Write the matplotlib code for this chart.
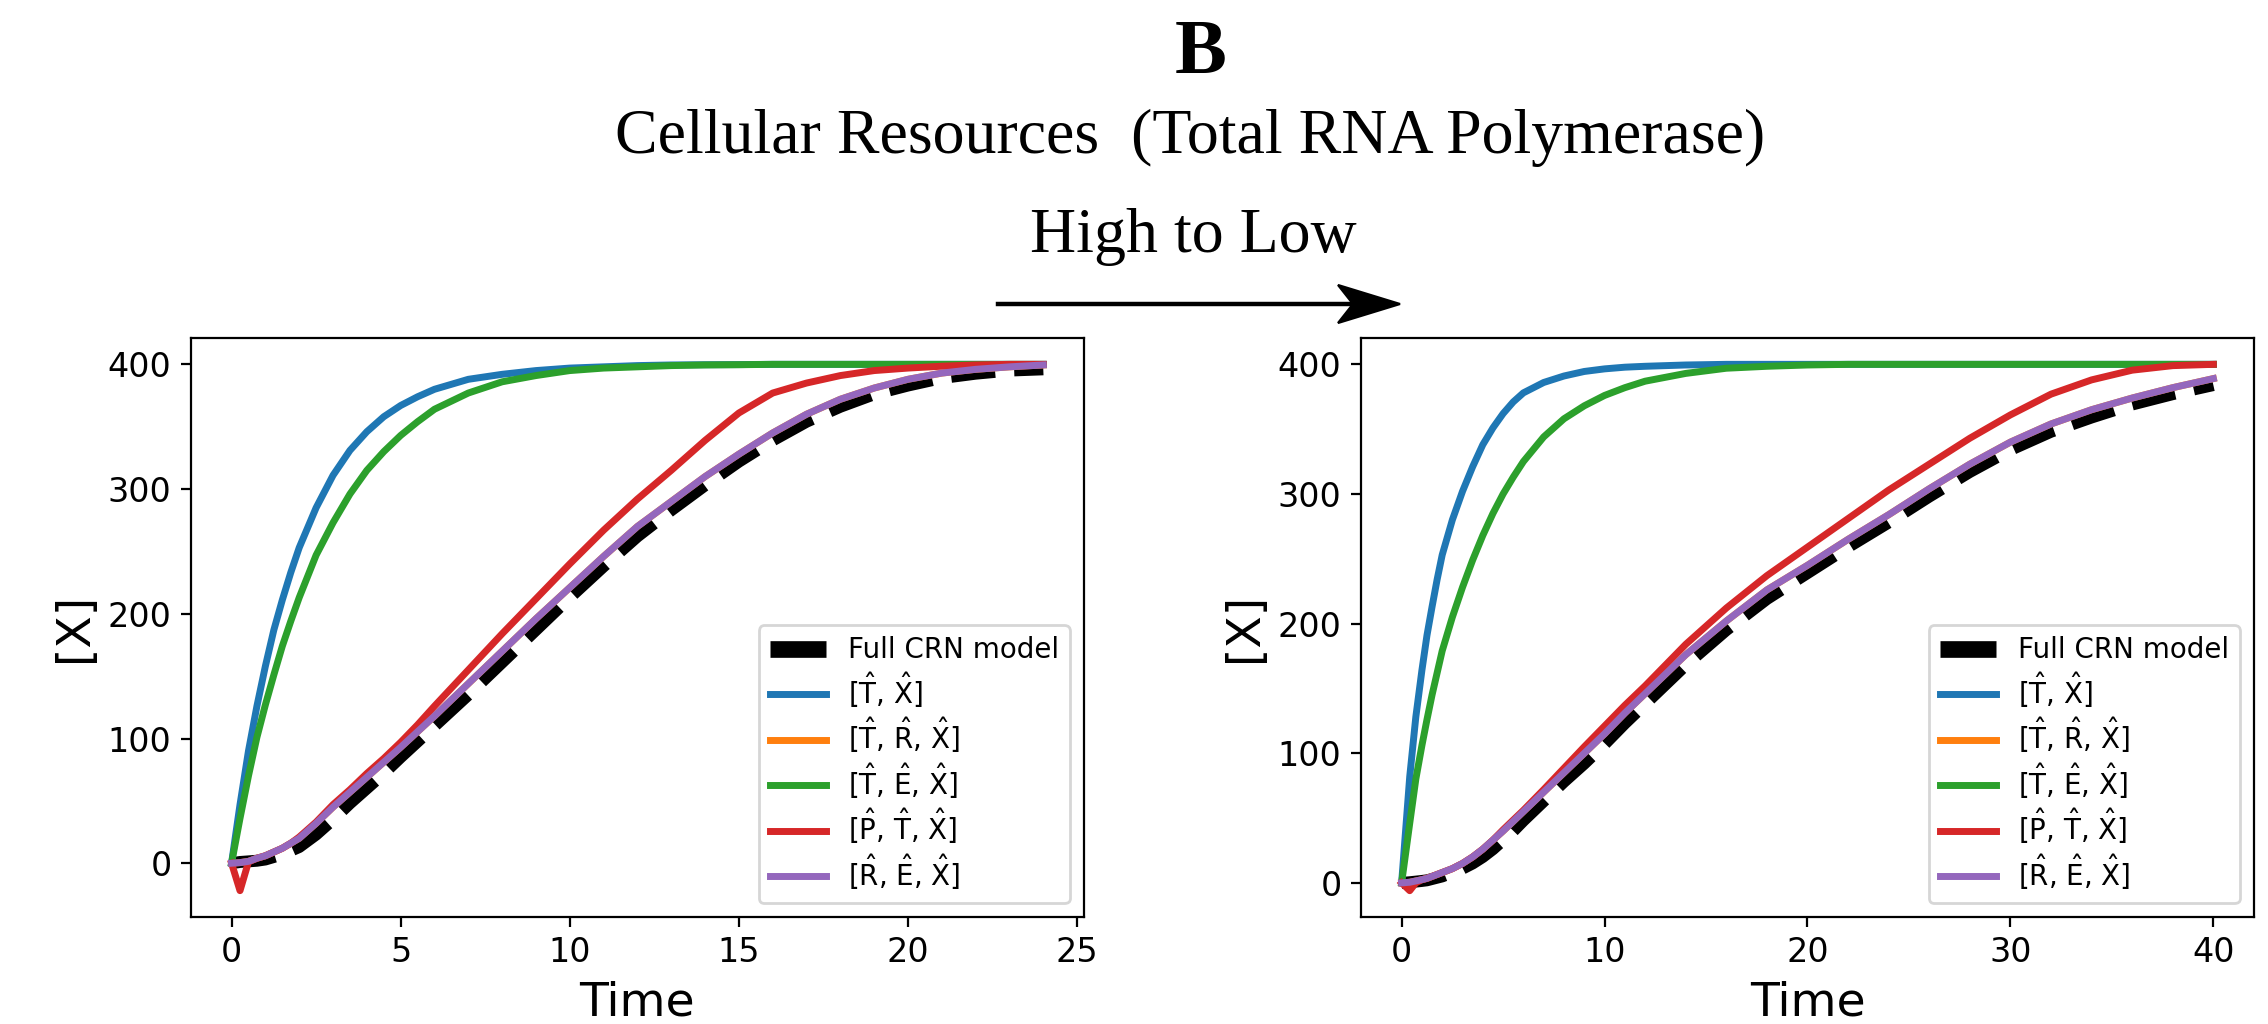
import matplotlib
matplotlib.use('Agg')
import matplotlib.pyplot as plt
from matplotlib.lines import Line2D
from matplotlib.patches import Polygon

# ---- data ----
labels = ['Full CRN model',
          r'[$\hat{\mathrm{T}}$, $\hat{\mathrm{X}}$]',
          r'[$\hat{\mathrm{T}}$, $\hat{\mathrm{R}}$, $\hat{\mathrm{X}}$]',
          r'[$\hat{\mathrm{T}}$, $\hat{\mathrm{E}}$, $\hat{\mathrm{X}}$]',
          r'[$\hat{\mathrm{P}}$, $\hat{\mathrm{T}}$, $\hat{\mathrm{X}}$]',
          r'[$\hat{\mathrm{R}}$, $\hat{\mathrm{E}}$, $\hat{\mathrm{X}}$]']

# left panel: high resources
tHigh = [0, 0.25, 0.5, 0.75, 1, 1.25, 1.5, 1.75, 2, 2.5, 3, 3.5, 4, 4.5, 5, 5.5, 6,
         7, 8, 9, 10, 11, 12, 13, 14, 15, 16, 17, 18, 19, 20, 21, 22, 23, 24]
fullHigh = [0, 1, 1.5, 2, 3, 5, 7, 10, 13, 23, 35, 48, 60, 72, 85, 97.5, 110,
            135, 161, 187, 213, 238, 262, 283, 303, 322, 339, 354, 366, 376, 383, 389, 392.5, 395, 396]
txHigh = [0, 47, 90, 126, 158, 187, 211, 233, 253, 285, 311, 331, 346, 358, 367, 374, 380,
          388, 392, 395, 397, 398, 399, 399.5, 399.7, 399.8, 400, 400, 400, 400, 400, 400, 400, 400, 400]
trxHigh = [0, 0.5, 1.5, 4, 6, 9, 12, 16, 20, 32, 45, 57, 69, 81, 93, 105.5, 118,
           144, 170, 196, 221, 246, 270, 290, 310, 328, 345, 360, 372, 381, 388, 393, 396, 398, 399.5]
texHigh = [0, 36, 70, 101, 127, 151, 174, 194, 213, 247, 273, 296, 315, 330, 343, 354, 364,
           377, 386, 391, 395, 397, 398, 399, 399.5, 399.7, 400, 400, 400, 400, 400, 400, 400, 400, 400]
ptxHigh = [0, -22, 1, 4, 6, 9, 12, 16, 21, 33, 47, 59, 72, 84, 97, 111, 126,
           155, 184, 212, 240, 267, 292, 315, 339, 361, 377, 385, 391, 395, 397, 398.5, 399.5, 400, 400]
rexHigh = trxHigh

# right panel: low resources
tLow = [0, 0.4, 0.7, 1, 1.25, 1.5, 1.75, 2, 2.5, 3, 3.5, 4, 4.5, 5, 5.5, 6, 7, 8, 9, 10,
        11, 12, 14, 16, 18, 20, 22, 24, 26, 28, 30, 32, 34, 36, 38, 40]
fullLow = [0, 0.5, 1, 1.5, 2, 3, 4, 5, 8, 11, 15, 20, 26, 33, 40, 48, 63, 78, 92, 107,
           123, 138, 168, 195, 219, 239, 259, 278, 298, 317, 334, 348, 359, 369, 377, 384]
txLow = [0, 82, 128, 164, 191, 213, 234, 253, 280, 302, 321, 338, 351, 362, 371, 378, 386, 391, 394.5, 396.5,
         397.8, 398.5, 399.5, 400, 400, 400, 400, 400, 400, 400, 400, 400, 400, 400, 400, 400]
trxLow = [0, 0.5, 1.5, 2.5, 3.5, 5, 6.5, 8, 11, 15, 20, 26, 33, 40, 47.5, 55, 70, 85, 100, 115,
          131, 146, 176, 202, 226, 245, 265, 284, 304, 323, 340, 354, 365, 374, 382, 389]
texLow = [0, 46, 80, 106, 126, 145, 162, 179, 205, 228, 249, 268, 285, 300, 313, 325, 344, 358, 368, 376,
          382, 387, 393, 397, 398.5, 399.5, 400, 400, 400, 400, 400, 400, 400, 400, 400, 400]
ptxLow = [0, -6, 0, 2.5, 3.5, 5, 6.5, 8, 11, 15, 20, 26, 33, 41, 48.5, 56, 72, 88.5, 105, 121,
          137, 152, 184, 212, 237, 259, 281, 303, 323, 343, 361, 377, 388, 395.5, 399, 400]
rexLow = trxLow

colors = ['C0', 'C1', 'C2', 'C3', 'C4']

W, H = 2268, 1024
fig = plt.figure(figsize=(W / 200, H / 200), dpi=200)

axLeft = fig.add_axes([0.0842, 0.1045, 0.3937, 0.5654])
axRight = fig.add_axes([0.6001, 0.1045, 0.3937, 0.5654])

panels = [
    (axLeft, tHigh, fullHigh, [txHigh, trxHigh, texHigh, ptxHigh, rexHigh]),
    (axRight, tLow, fullLow, [txLow, trxLow, texLow, ptxLow, rexLow]),
]

for ax, t, full, reduced in panels:
    ax.plot(t, full, 'k--', lw=4.3, label=labels[0])
    for series, color, label in zip(reduced, colors, labels[1:]):
        ax.plot(t, series, color=color, lw=2.5, label=label)
    ax.set_xlabel('Time', fontsize=17)
    ax.set_ylabel('[X]', fontsize=17)
    ax.tick_params(labelsize=12)
    leg = ax.legend(loc='lower right', fontsize=10, labelspacing=0.2)
    leg.legend_handles[0].set_linewidth(6)

# headings (positions given as pixel baselines of the reference)
serif = 'Liberation Serif'
fig.text(1201 / W, 1 - 73 / H, 'B', ha='center', va='baseline', fontsize=28,
         fontweight='bold', family=serif)
fig.text(1190 / W, 1 - 153 / H, 'Cellular Resources  (Total RNA Polymerase)',
         ha='center', va='baseline', fontsize=23, family=serif)
fig.text(1193 / W, 1 - 252 / H, 'High to Low', ha='center', va='baseline',
         fontsize=23, family=serif)

# arrow: shaft plus a swept-back head
ay = 1 - 304 / H
fig.add_artist(Line2D([998 / W, 1355 / W], [ay, ay], transform=fig.transFigure,
                      color='black', lw=1.6))
head = Polygon([(1400 / W, ay), (1338 / W, ay + 19 / H), (1353 / W, ay),
                (1338 / W, ay - 19 / H)], closed=True, transform=fig.transFigure,
               facecolor='black', edgecolor='black', lw=0.8)
fig.add_artist(head)

fig.savefig('out.png', dpi=200)
